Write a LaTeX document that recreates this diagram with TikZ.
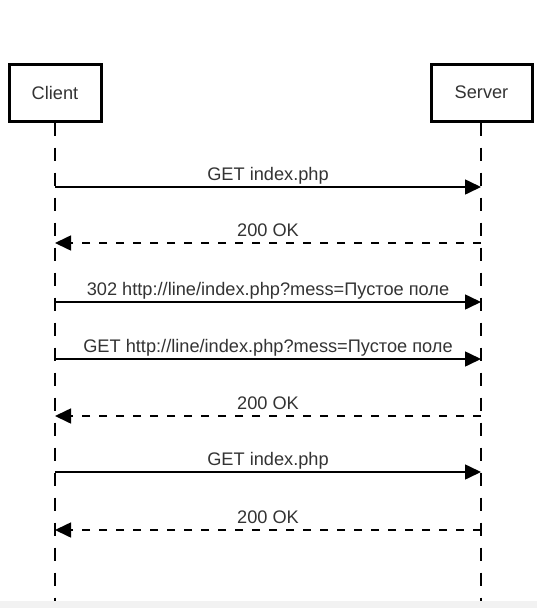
\documentclass[tikz,border=0pt]{standalone}
\usepackage{fontspec}
\setmainfont{Liberation Sans}
\usepackage{xcolor}
\usetikzlibrary{arrows.meta}
\definecolor{txtgray}{HTML}{333333}
\definecolor{bandgray}{HTML}{F2F2F2}

\begin{document}
\begin{tikzpicture}[x=1pt,y=-1pt,-{Triangle[length=16pt,width=15pt]},line width=1.6pt,font=\fontsize{18.2}{21}\selectfont]
            \tikzset{actor/.style={draw, -, line width=3pt, minimum width=92pt, minimum height=57pt, inner sep=0pt, text=txtgray},
                     lifeline/.style={-, dash pattern=on 13pt off 12pt},
                     reply/.style={dash pattern=on 8pt off 9pt},
                     msg/.style={midway, anchor=base, yshift=7pt, inner sep=0pt, text=txtgray}}
            \useasboundingbox (0,0) rectangle (537,608);
            \node[actor] (client) at (55,92.5) {Client};
            \node[actor, minimum width=101pt] (server) at (481.5,92.5) {Server};
            \coordinate (cEnd) at (55,601);
            \coordinate (sEnd) at (481,601);
            \draw[lifeline] (client.south) -- (cEnd);
            \draw[lifeline] (server.south -| sEnd) -- (sEnd);
            % points on the lifelines
            \coordinate (c1) at (55,187);  \coordinate (s1) at (481,187);
            \coordinate (c2) at (55,243);  \coordinate (s2) at (481,243);
            \coordinate (c3) at (55,302);  \coordinate (s3) at (481,302);
            \coordinate (c4) at (55,359);  \coordinate (s4) at (481,359);
            \coordinate (c5) at (55,416);  \coordinate (s5) at (481,416);
            \coordinate (c6) at (55,472);  \coordinate (s6) at (481,472);
            \coordinate (c7) at (55,530);  \coordinate (s7) at (481,530);
            \path (c1) edge              node[msg] {GET index.php} (s1);
            \path (s2) edge[reply]       node[msg] {200 OK} (c2);
            \path (c3) edge              node[msg] {302 http://line/index.php?mess=Пустое поле} (s3);
            \path (c4) edge              node[msg] {GET http://line/index.php?mess=Пустое поле} (s4);
            \path (s5) edge[reply]       node[msg] {200 OK} (c5);
            \path (c6) edge              node[msg] {GET index.php} (s6);
            \path (s7) edge[reply]       node[msg] {200 OK} (c7);
            \fill[bandgray] (0,601) rectangle (537,608);
        \end{tikzpicture}
\end{document}
